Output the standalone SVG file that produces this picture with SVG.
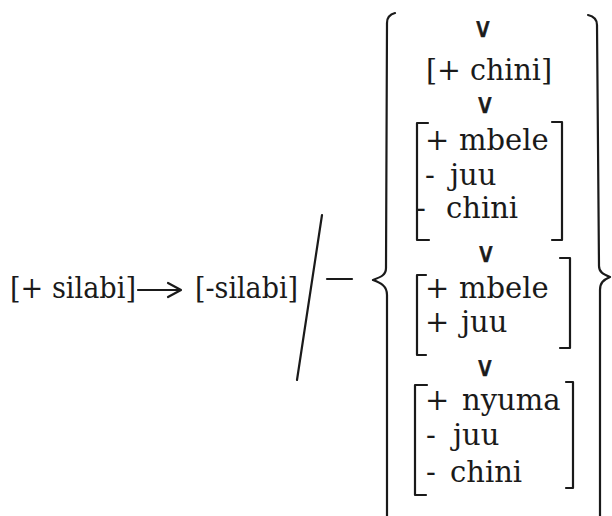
<svg xmlns="http://www.w3.org/2000/svg" width="612" height="516" viewBox="0 0 612 516">
<style>
  .t { font-family: "DejaVu Serif", "Liberation Serif", serif; font-size: 29px; fill: #1a1a1a; }
  .or { font-family: "DejaVu Sans", "Liberation Sans", sans-serif; font-size: 27px; fill: #1a1a1a; text-anchor: middle; stroke: #1a1a1a; stroke-width: 0.6; }
  .ln { fill: none; stroke: #1a1a1a; stroke-width: 2.2; stroke-linecap: round; stroke-linejoin: round; }
</style>
<rect width="612" height="516" fill="#ffffff"/>

<g id="input">
  <text class="t" x="10" y="298" textLength="126" lengthAdjust="spacingAndGlyphs">[+ silabi]</text>
</g>

<g id="connectors">
  <path class="ln" d="M138,290 L180,290 M168,283 L181,290 L168,297"/>
</g>

<g id="output">
  <text class="t" x="195" y="298" textLength="103" lengthAdjust="spacingAndGlyphs">[-silabi]</text>
</g>

<g id="environment-slash">
  <path class="ln" d="M322,215 L297,380" stroke-width="2.5"/>
</g>

<g id="focus-dash">
  <path class="ln" d="M327,279 L352,279" stroke-width="2.5"/>
</g>

<g id="brace-left">
  <path class="ln" d="M395,13 Q387,15 387,23 L386,268 C386,275 381,277 373,280 C381,283 387,286 387,295 L387,516"/>
</g>

<g id="brace-right">
  <path class="ln" d="M588,15 Q597,17 597,25 L599,266 C599,272 603,274 610,277 C603,280 600,283 600,290 L600,516"/>
</g>

<g id="or-1"><text class="or" x="483" y="37">∨</text></g>

<g id="option-chini">
  <text class="t" x="426" y="80" textLength="126" lengthAdjust="spacingAndGlyphs">[+ chini]</text>
</g>

<g id="or-2"><text class="or" x="485" y="113">∨</text></g>

<g id="option-mbele-juu-chini">
  <path class="ln" d="M428,123 L417,123 L417,240 L429,240"/>
  <path class="ln" d="M552,122 L562,122 L562,240 L552,240"/>
  <text class="t" y="150"><tspan x="425">+ </tspan><tspan x="459">mbele</tspan></text>
  <text class="t" y="185"><tspan x="425">- </tspan><tspan x="450">juu</tspan></text>
  <text class="t" y="218"><tspan x="416">- </tspan><tspan x="446">chini</tspan></text>
</g>

<g id="or-3"><text class="or" x="486" y="262">∨</text></g>

<g id="option-mbele-juu">
  <path class="ln" d="M426,275 L417,275 L417,355 L426,355"/>
  <path class="ln" d="M560,258 L570,258 L570,348 L560,348"/>
  <text class="t" y="298"><tspan x="425">+ </tspan><tspan x="459">mbele</tspan></text>
  <text class="t" y="332"><tspan x="425">+ </tspan><tspan x="461">juu</tspan></text>
</g>

<g id="or-4"><text class="or" x="485" y="376">∨</text></g>

<g id="option-nyuma">
  <path class="ln" d="M427,385 L415,385 L415,495 L426,495"/>
  <path class="ln" d="M566,382 L573,382 L573,488 L566,488"/>
  <text class="t" y="410"><tspan x="425">+ </tspan><tspan x="462">nyuma</tspan></text>
  <text class="t" y="445"><tspan x="426">- </tspan><tspan x="453">juu</tspan></text>
  <text class="t" y="482"><tspan x="426">- </tspan><tspan x="450">chini</tspan></text>
</g>
</svg>
